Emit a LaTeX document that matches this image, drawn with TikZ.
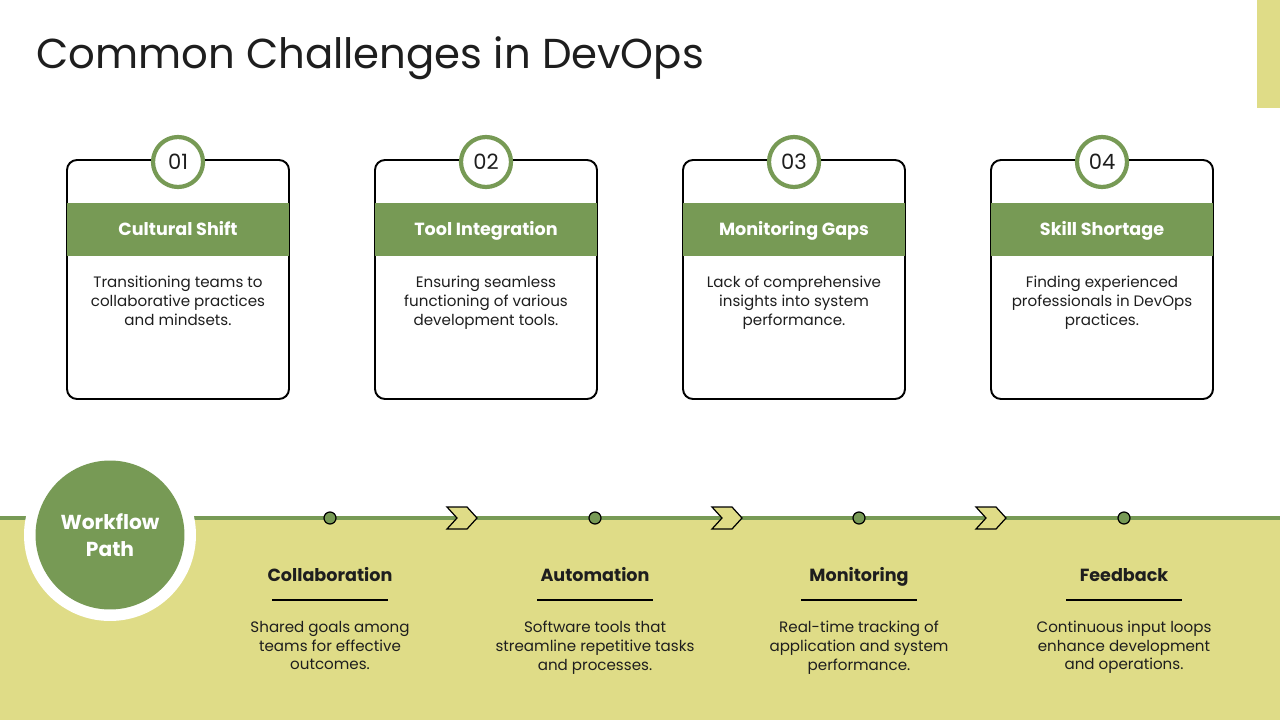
\documentclass[tikz,border=0pt]{standalone}
\usepackage{fontspec}
\setmainfont{Poppins}
\usepackage{xcolor}
\usepackage{tikz}
\usetikzlibrary{positioning,arrows.meta}

\definecolor{leafgreen}{HTML}{779A55}
\definecolor{sandband}{HTML}{DFDC87}
\definecolor{inktext}{HTML}{1E1E1E}

\begin{document}
\begin{tikzpicture}[x=0.02cm,y=-0.02cm,
  every node/.style={text=inktext},
  cardbox/.style={draw=black,line width=1.1pt,rounded corners=0.2cm,fill=white},
  numring/.style={circle,draw=leafgreen,line width=2.4pt,fill=white,minimum size=1.0cm,inner sep=0pt,font=\fontsize{12}{14}\selectfont},
  cardhead/.style={anchor=base,font=\bfseries\fontsize{10}{12}\selectfont,text=white},
  cardbody/.style={align=center,font=\fontsize{8.6}{10.8}\selectfont},
  stephead/.style={anchor=base,font=\bfseries\fontsize{10}{12}\selectfont},
  stepbody/.style={align=center,font=\fontsize{8.6}{10.6}\selectfont},
  pathdot/.style={fill=leafgreen,draw=black,line width=0.7pt}]
  \useasboundingbox (0,0) rectangle (1280,720);
  % Title and corner tab
  \node[anchor=base west,font=\fontsize{23.8}{28}\selectfont] (title) at (30,68) {Common Challenges in DevOps};
  \fill[sandband] (1257,0) rectangle (1280,108);

  % Challenge cards
  \foreach \cx/\num/\head/\body in {
      178/01/Cultural Shift/{Transitioning teams to\\collaborative practices\\and mindsets.},
      486/02/Tool Integration/{Ensuring seamless\\functioning of various\\development tools.},
      794/03/Monitoring Gaps/{Lack of comprehensive\\insights into system\\performance.},
      1102/04/Skill Shortage/{Finding experienced\\professionals in DevOps\\practices.}} {
    \draw[cardbox] (\cx-111,160) rectangle (\cx+111,399);
    \fill[leafgreen] (\cx-111,203) rectangle (\cx+111,256);
    \node[numring] (num\num) at (\cx,162) {\num};
    \node[cardhead] (head\num) at (\cx,235) {\head};
    \node[cardbody,anchor=north] (body\num) at (\cx,270) {\body};
  }

  % Workflow band
  \fill[sandband] (0,518) rectangle (1280,720);
  \draw[leafgreen,line width=2.8pt] (0,518) -- (1280,518);

  % Chevrons between steps
  \foreach \chx in {447,712,976} {
    \draw[fill=sandband,draw=black,line width=0.7pt,line join=miter]
      (\chx,507) -- (\chx+20,507) -- (\chx+30,518) -- (\chx+20,529)
      -- (\chx,529) -- (\chx+10,518) -- cycle;
  }

  % Workflow steps
  \foreach \sx/\sid/\head/\body in {
      330/a/Collaboration/{Shared goals among\\teams for effective\\outcomes.},
      595/b/Automation/{Software tools that\\streamline repetitive tasks\\and processes.},
      859/c/Monitoring/{Real-time tracking of\\application and system\\performance.},
      1124/d/Feedback/{Continuous input loops\\enhance development\\and operations.}} {
    \draw[pathdot] (\sx,518) circle (0.12cm);
    \node[stephead] (step\sid) at (\sx,581) {\head};
    \draw[black,line width=0.8pt] (\sx-58,600) -- (\sx+58,600);
    \node[stepbody,anchor=north] (desc\sid) at (\sx,615) {\body};
  }

  % Workflow badge
  \fill[white] (110,535) circle (1.72cm);
  \node[circle,fill=leafgreen,minimum size=2.98cm,inner sep=0pt,align=center,
    text=white,font=\bfseries\fontsize{11.5}{15}\selectfont] (badge) at (110,535) {Workflow\\Path};
\end{tikzpicture}
\end{document}
